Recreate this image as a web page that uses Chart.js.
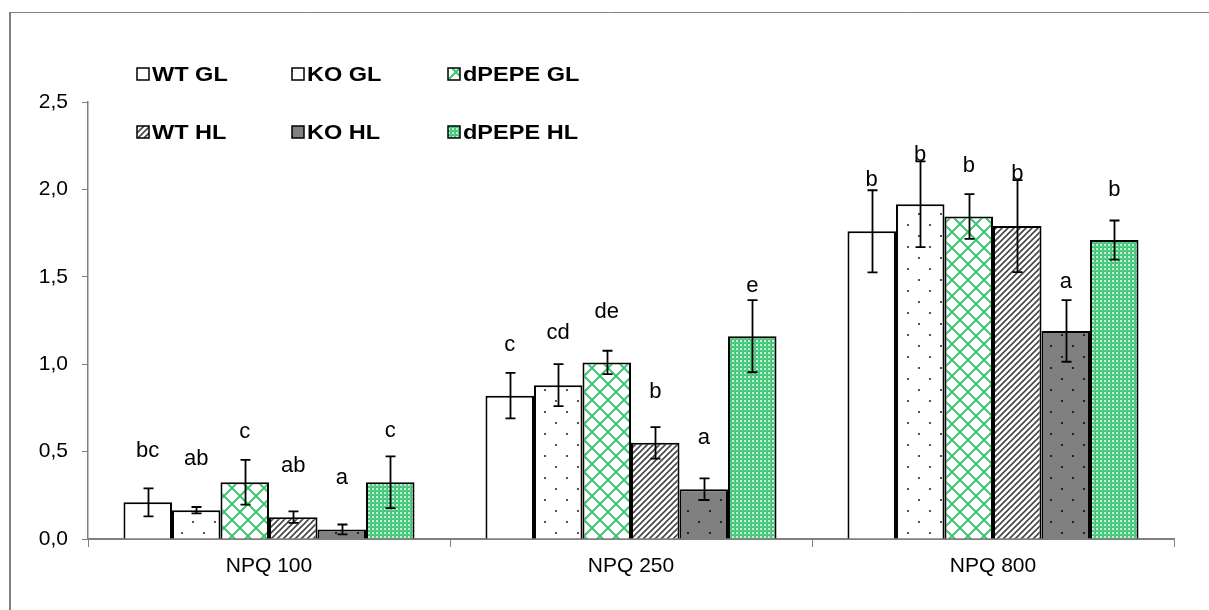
<!DOCTYPE html>
<html>
<head>
<meta charset="utf-8">
<script src="https://cdn.jsdelivr.net/npm/chart.js@4"></script>
<style>
  body { margin: 0; background: #fff; }
  #wrap { width: 1209px; height: 610px; }
</style>
</head>
<body>
<div id="wrap"><canvas id="npq" width="1209" height="610"></canvas></div>
<script>
// Daten
const categories = ['NPQ 100', 'NPQ 250', 'NPQ 800'];
const seriesNames = ['WT GL', 'KO GL', 'dPEPE GL', 'WT HL', 'KO HL', 'dPEPE HL'];

const wtGL    = [0.21, 0.82, 1.76];
const koGL    = [0.165, 0.88, 1.915];
const dpepeGL = [0.325, 1.01, 1.845];
const wtHL    = [0.125, 0.55, 1.79];
const koHL    = [0.055, 0.285, 1.19];
const dpepeHL = [0.325, 1.16, 1.71];

const wtGLErr    = [0.08, 0.13, 0.235];
const koGLErr    = [0.018, 0.12, 0.245];
const dpepeGLErr = [0.128, 0.067, 0.128];
const wtHLErr    = [0.033, 0.09, 0.263];
const koHLErr    = [0.028, 0.062, 0.176];
const dpepeHLErr = [0.148, 0.206, 0.112];

// Signifikanz-Buchstaben und ihre Höhe (in y-Einheiten)
const wtGLSig    = ['bc', 'c', 'b'];
const koGLSig    = ['ab', 'cd', 'b'];
const dpepeGLSig = ['c', 'de', 'b'];
const wtHLSig    = ['ab', 'b', 'b'];
const koHLSig    = ['a', 'a', 'a'];
const dpepeHLSig = ['c', 'e', 'b'];

const wtGLSigAt    = [0.503, 1.11, 2.054];
const koGLSigAt    = [0.458, 1.178, 2.197];
const dpepeGLSigAt = [0.612, 1.30, 2.134];
const wtHLSigAt    = [0.418, 0.843, 2.086];
const koHLSigAt    = [0.349, 0.576, 1.472];
const dpepeHLSigAt = [0.618, 1.45, 1.997];

const yTicks = [0, 0.5, 1.0, 1.5, 2.0, 2.5];

const FONT = '"Liberation Sans", Arial, sans-serif';

// Muster
function makePattern(w, h, draw) {
  const c = document.createElement('canvas');
  c.width = w; c.height = h;
  const g = c.getContext('2d');
  draw(g, w, h);
  return g.createPattern(c, 'repeat');
}

const dots = (bg, dot) => makePattern(22, 22, (g) => {
  g.fillStyle = bg; g.fillRect(0, 0, 22, 22);
  g.fillStyle = dot;
  g.fillRect(5, 4, 2, 2);
  g.fillRect(16, 15, 2, 2);
});
const fills = [
  '#ffffff',
  dots('#ffffff', '#555555'),
  makePattern(16, 16, (g) => {
    g.fillStyle = '#fff'; g.fillRect(0, 0, 16, 16);
    g.strokeStyle = '#3ec474'; g.lineWidth = 2;
    g.beginPath();
    g.moveTo(-1, -1); g.lineTo(17, 17);
    g.moveTo(17, -1); g.lineTo(-1, 17);
    g.stroke();
  }),
  makePattern(6, 6, (g) => {
    g.fillStyle = '#fff'; g.fillRect(0, 0, 6, 6);
    g.strokeStyle = '#444'; g.lineWidth = 1.6;
    g.beginPath();
    g.moveTo(-1, 7); g.lineTo(7, -1);
    g.moveTo(-1, 1); g.lineTo(1, -1);
    g.moveTo(5, 7); g.lineTo(7, 5);
    g.stroke();
  }),
  dots('#808080', '#222222'),
  makePattern(4, 4, (g) => {
    g.fillStyle = '#46c67a'; g.fillRect(0, 0, 4, 4);
    g.fillStyle = '#c2f0d4';
    g.fillRect(0, 0, 2, 2);
    g.fillStyle = '#8ddcad';
    g.fillRect(2, 2, 1, 1);
  })
];

const values = [wtGL, koGL, dpepeGL, wtHL, koHL, dpepeHL];
const errs = [wtGLErr, koGLErr, dpepeGLErr, wtHLErr, koHLErr, dpepeHLErr];
const sigs = [wtGLSig, koGLSig, dpepeGLSig, wtHLSig, koHLSig, dpepeHLSig];
const sigAt = [wtGLSigAt, koGLSigAt, dpepeGLSigAt, wtHLSigAt, koHLSigAt, dpepeHLSigAt];

const datasets = seriesNames.map((name, i) => ({
  label: name,
  data: values[i],
  backgroundColor: fills[i],
  borderColor: '#000',
  borderWidth: 2,
  borderSkipped: 'bottom',
  categoryPercentage: 0.804,
  barPercentage: 1.0
}));

// Rahmen, Fehlerbalken, Buchstaben, Legende
const extras = {
  id: 'extras',
  beforeDraw(chart) {
    const c = chart.ctx;
    c.save();
    c.fillStyle = '#fff';
    c.fillRect(0, 0, chart.width, chart.height);
    c.strokeStyle = '#808080';
    c.lineWidth = 2;
    c.beginPath();
    c.moveTo(10, 610); c.lineTo(10, 12);
    c.stroke();
    c.lineWidth = 1;
    c.beginPath();
    c.moveTo(10, 12.5); c.lineTo(1209, 12.5);
    c.stroke();
    c.restore();
  },
  afterDatasetsDraw(chart) {
    const c = chart.ctx;
    const y = chart.scales.y;
    c.save();
    c.strokeStyle = '#000';
    c.lineWidth = 1.8;
    c.fillStyle = '#000';
    c.font = '22px ' + FONT;
    c.textAlign = 'center';
    c.textBaseline = 'middle';
    chart.data.datasets.forEach((ds, i) => {
      const meta = chart.getDatasetMeta(i);
      meta.data.forEach((bar, j) => {
        const x = Math.round(bar.x) + 0.5;
        const v = ds.data[j], e = errs[i][j];
        const top = y.getPixelForValue(v + e);
        const bot = y.getPixelForValue(v - e);
        c.beginPath();
        c.moveTo(x, top); c.lineTo(x, bot);
        c.moveTo(x - 5, top); c.lineTo(x + 5, top);
        c.moveTo(x - 5, bot); c.lineTo(x + 5, bot);
        c.stroke();
        c.fillText(sigs[i][j], bar.x, y.getPixelForValue(sigAt[i][j]));
      });
    });
    c.restore();
  },
  afterDraw(chart) {
    const c = chart.ctx;
    const cols = [137, 292, 448];
    const rows = [74, 132];
    c.save();
    c.font = 'bold 21px ' + FONT;
    c.textBaseline = 'middle';
    c.textAlign = 'left';
    seriesNames.forEach((name, i) => {
      const bx = cols[i % 3], by = rows[Math.floor(i / 3)];
      c.fillStyle = fills[i];
      c.fillRect(bx, by - 6, 12, 12);
      c.strokeStyle = '#000';
      c.lineWidth = 1.5;
      c.strokeRect(bx, by - 6, 12, 12);
      c.fillStyle = '#000';
      c.save();
      c.translate(bx + 15, by + 1);
      c.scale(1.12, 1);
      c.fillText(name, 0, 0);
      c.restore();
    });
    c.restore();
  }
};

new Chart(document.getElementById('npq'), {
  type: 'bar',
  data: { labels: categories, datasets: datasets },
  options: {
    responsive: false,
    animation: false,
    layout: { padding: { left: 0, top: 102, right: 35, bottom: 31 } },
    plugins: { legend: { display: false }, tooltip: { enabled: false } },
    scales: {
      x: {
        grid: { drawOnChartArea: false, color: '#808080', tickLength: 8, offset: true },
        border: { color: '#808080', width: 2 },
        ticks: { color: '#000', font: { family: FONT, size: 21 }, padding: 7 },
        afterFit(scale) { scale.height = 40; }
      },
      y: {
        min: 0, max: 2.5,
        afterBuildTicks(scale) { scale.ticks = yTicks.map(v => ({ value: v })); },
        grid: { drawOnChartArea: false, color: '#808080', tickLength: 6 },
        border: { color: '#808080', width: 1.5 },
        ticks: {
          color: '#000', padding: 14,
          font: { family: FONT, size: 21 },
          callback: (v) => v.toFixed(1).replace('.', ',')
        },
        afterFit(scale) { scale.width = 88; }
      }
    }
  },
  plugins: [extras]
});
</script>
</body>
</html>
